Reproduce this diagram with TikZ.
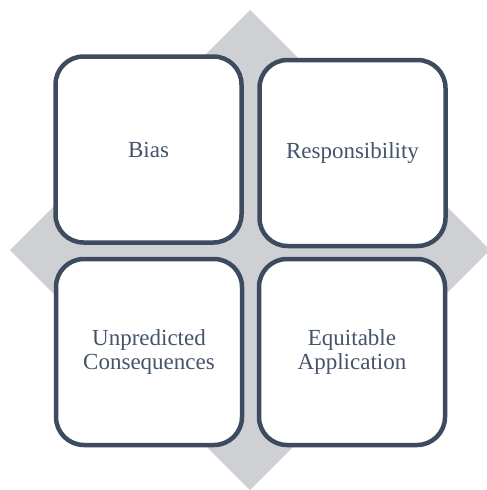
\documentclass[tikz,border=0pt]{standalone}
\usepackage{fontspec}
\setmainfont{Liberation Serif}
\definecolor{diamondgray}{HTML}{CFD0D4}
\definecolor{boxline}{HTML}{3D4B5F}
\definecolor{boxtext}{HTML}{44546A}
\begin{document}
\begin{tikzpicture}[x=1pt,y=-1pt,
  card/.style={draw=boxline, line width=4.5pt, fill=white, rounded corners=28pt,
    minimum width=186pt, minimum height=186pt, inner sep=0pt,
    text=boxtext, align=center, font=\fontsize{23}{24}\selectfont}]
\useasboundingbox (0,0) rectangle (487,490);
\begin{scope}
\clip (0,0) rectangle (487,490);
\fill[diamondgray] (250,10) -- (490,250) -- (250,490) -- (10,250) -- cycle;
\end{scope}
\node[card] (bias) at (148.5,149.5) {Bias};
\node[card] (resp) at (352.5,153) {Responsibility};
\node[card] (unpr) at (149,352) {Unpredicted\\Consequences};
\node[card] (equi) at (352,352) {Equitable\\Application};
\end{tikzpicture}
\end{document}
